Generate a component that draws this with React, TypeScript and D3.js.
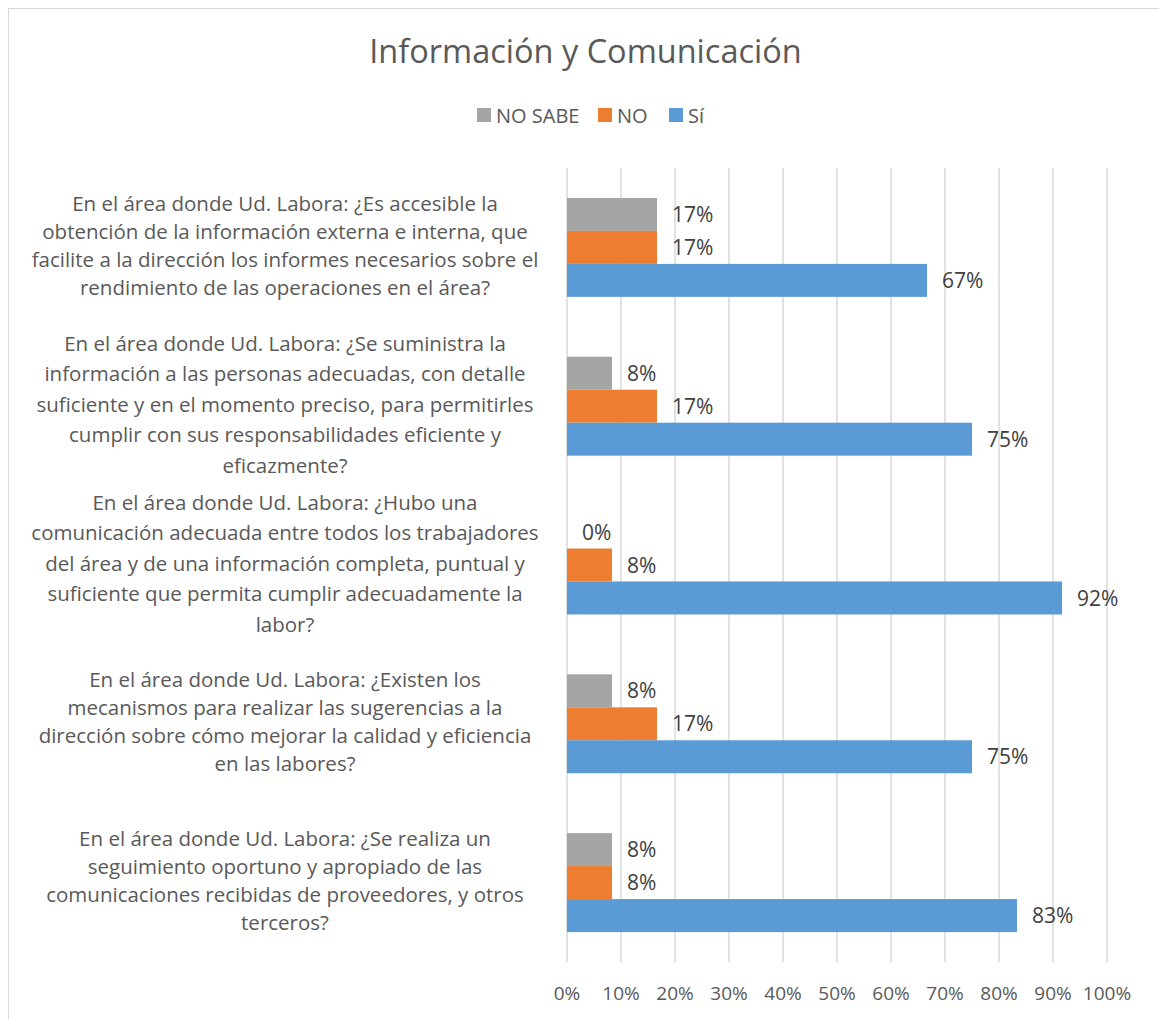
import React from "react";
import * as d3 from "d3";

const TITLE = "Información y Comunicación";

const categories: string[][] = [
  [
    "En el área donde Ud. Labora: ¿Es accesible la",
    "obtención de la información externa e interna, que",
    "facilite a la dirección los informes necesarios sobre el",
    "rendimiento de las operaciones en el área?",
  ],
  [
    "En el área donde Ud. Labora: ¿Se suministra la",
    "información a las personas adecuadas, con detalle",
    "suficiente y en el momento preciso, para permitirles",
    "cumplir con sus responsabilidades eficiente y",
    "eficazmente?",
  ],
  [
    "En el área donde Ud. Labora: ¿Hubo una",
    "comunicación adecuada entre todos los trabajadores",
    "del área y de una información completa, puntual y",
    "suficiente que permita cumplir adecuadamente la",
    "labor?",
  ],
  [
    "En el área donde Ud. Labora: ¿Existen los",
    "mecanismos para realizar las sugerencias a la",
    "dirección sobre cómo mejorar la calidad y eficiencia",
    "en las labores?",
  ],
  [
    "En el área donde Ud. Labora: ¿Se realiza un",
    "seguimiento oportuno y apropiado de las",
    "comunicaciones recibidas de proveedores, y otros",
    "terceros?",
  ],
];

const seriesNames = ["NO SABE", "NO", "Sí"];
const seriesColors = ["#A5A5A5", "#ED7D31", "#5B9BD5"];

const noSabe = [0.1667, 0.0833, 0.0, 0.0833, 0.0833];
const no = [0.1667, 0.1667, 0.0833, 0.1667, 0.0833];
const si = [0.6667, 0.75, 0.9167, 0.75, 0.8333];

const seriesValues = [noSabe, no, si];

const xTicks = [0, 0.1, 0.2, 0.3, 0.4, 0.5, 0.6, 0.7, 0.8, 0.9, 1.0];

const FONT = "'Open Sans', Lato, sans-serif";
const TEXT = "#595959";

export default function App() {
  const W = 1159;
  const H = 1019;
  const plotLeft = 567;
  const plotRight = 1107;
  const plotTop = 168;
  const plotBottom = 962;

  const x = d3.scaleLinear().domain([0, 1]).range([plotLeft, plotRight]);
  const y = d3
    .scaleBand<number>()
    .domain(categories.map((_, i) => i))
    .range([plotTop, plotBottom])
    .paddingInner(0.377)
    .paddingOuter(0.1885);
  const ys = d3
    .scaleBand<number>()
    .domain(seriesNames.map((_, i) => i))
    .range([0, y.bandwidth()]);
  const fmt = d3.format(".0%");

  const legendItems = [
    { name: seriesNames[0], color: seriesColors[0], x: 477 },
    { name: seriesNames[1], color: seriesColors[1], x: 598 },
    { name: seriesNames[2], color: seriesColors[2], x: 669 },
  ];

  return (
    <svg
      width={W}
      height={H}
      style={{ position: "absolute", left: 0, top: 0, background: "#fff" }}
      fontFamily={FONT}
    >
      <rect x={0} y={0} width={W} height={H} fill="#fff" />
      <rect
        x={8.5}
        y={8.5}
        width={1200}
        height={1100}
        fill="none"
        stroke="#D9D9D9"
        strokeWidth={1}
      />
      <text
        x={585.5}
        y={63}
        textAnchor="middle"
        fontSize={32.5}
        fill={TEXT}
      >
        {TITLE}
      </text>

      {legendItems.map((d) => (
        <g key={d.name}>
          <rect x={d.x} y={108} width={14} height={14} fill={d.color} />
          <text x={d.x + 19} y={122.5} fontSize={20} fill={TEXT}>
            {d.name}
          </text>
        </g>
      ))}

      {xTicks.map((t) => (
        <line
          key={t}
          x1={x(t)}
          x2={x(t)}
          y1={plotTop}
          y2={plotBottom}
          stroke="#D9D9D9"
          strokeWidth={1.5}
        />
      ))}
      {xTicks.map((t) => (
        <text
          key={"l" + t}
          x={x(t)}
          y={1000}
          textAnchor="middle"
          fontSize={19}
          fill={TEXT}
        >
          {fmt(t)}
        </text>
      ))}

      {categories.map((lines, ci) => {
        const cy = (y(ci) as number) + y.bandwidth() / 2;
        const n = lines.length;
        const lh = n >= 5 ? 30.5 : 28;
        return (
          <g key={ci}>
            {lines.map((ln, li) => (
              <text
                key={li}
                x={285}
                y={cy + (li - (n - 1) / 2) * lh + 5.5}
                textAnchor="middle"
                fontSize={20.5}
                fill={TEXT}
              >
                {ln}
              </text>
            ))}
            {seriesValues.map((vals, si2) => {
              const by = (y(ci) as number) + (ys(si2) as number);
              const v = vals[ci];
              return (
                <g key={si2}>
                  {v > 0 && (
                    <rect
                      x={x(0)}
                      y={by}
                      width={x(v) - x(0)}
                      height={ys.bandwidth()}
                      fill={seriesColors[si2]}
                    />
                  )}
                  <text
                    x={x(v) + 15}
                    y={by + ys.bandwidth() / 2}
                    dy="0.36em"
                    fontSize={21}
                    fill={"#404040"}
                  >
                    {fmt(v)}
                  </text>
                </g>
              );
            })}
          </g>
        );
      })}
    </svg>
  );
}
